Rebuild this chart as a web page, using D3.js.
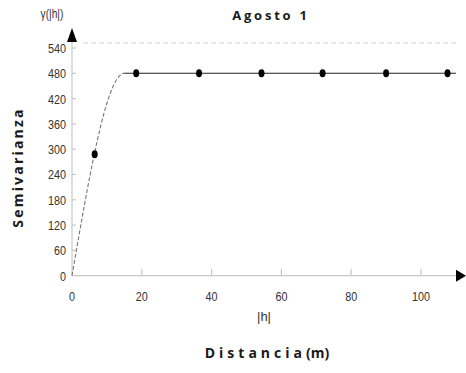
<!DOCTYPE html>
<html><head><meta charset="utf-8">
<script src="https://cdn.jsdelivr.net/npm/d3@7"></script>
<style>body{margin:0;background:#fff}svg{display:block}</style>
</head><body>
<svg id="chart" width="466" height="373"></svg>
<script>
// Experimental semivariogram (lag distance vs semivariance)
const lags = [6.5, 18.4, 36.4, 54.3, 71.8, 90.0, 107.6];
const semivar = [288, 480, 480, 480, 480, 480, 480];
// Fitted spherical model
const modelSill = 480;
const modelRange = 15;
const sillRef = 552;
const xTicks = [0, 20, 40, 60, 80, 100];
const yTicks = [0, 60, 120, 180, 240, 300, 360, 420, 480, 540];

const svg = d3.select("#chart");
const x = d3.scaleLinear().domain([0, 100]).range([72, 421]);
const y = d3.scaleLinear().domain([0, 540]).range([275.7, 48]);
const axisCol = "#c8c8c8";
const tickFont = "'Liberation Sans', Arial, sans-serif";

// axes lines
svg.append("line").attr("x1", 72).attr("x2", 458).attr("y1", y(0)).attr("y2", y(0))
  .attr("stroke", axisCol).attr("stroke-width", 1.2);
svg.append("line").attr("x1", 72).attr("x2", 72).attr("y1", y(0)).attr("y2", 36)
  .attr("stroke", axisCol).attr("stroke-width", 1.2);
// arrow heads
svg.append("path").attr("d", `M456,${y(0)-6} L466,${y(0)} L456,${y(0)+6} Z`).attr("fill", "#000");
svg.append("path").attr("d", `M67,42 L72,28 L77,42 Z`).attr("fill", "#000");

// ticks and tick labels
const gx = svg.append("g").attr("transform", `translate(0,${y(0)})`);
gx.selectAll("line.t").data(xTicks.slice(1)).enter().append("line")
  .attr("x1", d => x(d)).attr("x2", d => x(d)).attr("y1", 0).attr("y2", -7)
  .attr("stroke", axisCol).attr("stroke-width", 1.2);
gx.selectAll("text").data(xTicks).enter().append("text")
  .attr("x", d => x(d)).attr("y", 23).attr("text-anchor", "middle")
  .attr("font-family", tickFont).attr("font-size", 12).attr("fill", "#333")
  .attr("transform", d => `translate(${x(d)},0) scale(0.9,1.1) translate(${-x(d)},0)`)
  .text(d => d);

const gy = svg.append("g");
gy.selectAll("line").data(yTicks.slice(1)).enter().append("line")
  .attr("x1", 72).attr("x2", 76).attr("y1", d => y(d)).attr("y2", d => y(d))
  .attr("stroke", axisCol).attr("stroke-width", 1.2);
gy.selectAll("text").data(yTicks).enter().append("text")
  .attr("x", 66).attr("y", d => y(d) + 4.5).attr("text-anchor", "end")
  .attr("font-family", tickFont).attr("font-size", 12).attr("fill", "#333")
  .attr("transform", d => `translate(66,${y(d)}) scale(0.9,1.1) translate(-66,${-y(d)})`)
  .text(d => d);

// sill reference line
svg.append("line").attr("x1", 83).attr("x2", 457).attr("y1", y(sillRef)).attr("y2", y(sillRef))
  .attr("stroke", "#cfcfcf").attr("stroke-width", 1).attr("stroke-dasharray", "5,3");

// spherical model: dashed rising part, solid plateau
const sph = h => h >= modelRange ? modelSill :
  modelSill * (1.5 * h / modelRange - 0.5 * Math.pow(h / modelRange, 3));
const rise = d3.range(0, modelRange + 0.01, 0.25);
svg.append("path").datum(rise)
  .attr("d", d3.line().x(d => x(d)).y(d => y(sph(d))))
  .attr("fill", "none").attr("stroke", "#777").attr("stroke-width", 1.1).attr("stroke-dasharray", "4,2");
svg.append("line").attr("x1", x(modelRange)).attr("x2", x(110)).attr("y1", y(modelSill)).attr("y2", y(modelSill))
  .attr("stroke", "#222").attr("stroke-width", 1.1);

// experimental points
svg.selectAll("ellipse.pt").data(lags).enter().append("ellipse")
  .attr("cx", d => x(d)).attr("cy", (d, i) => y(semivar[i]))
  .attr("rx", 3).attr("ry", 4).attr("fill", "#000");

// labels
const bold = "'Open Sans', 'DejaVu Sans', sans-serif";
svg.append("text").attr("x", 271).attr("y", 20).attr("text-anchor", "middle")
  .attr("font-family", bold).attr("font-weight", "bold").attr("font-size", 13)
  .attr("letter-spacing", 2.8).attr("fill", "#1a1a1a").text("Agosto 1");
svg.append("text").attr("x", 52).attr("y", 18).attr("text-anchor", "middle")
  .attr("font-family", tickFont).attr("font-size", 12).attr("fill", "#333")
  .attr("transform", "translate(52,14) scale(0.85,1.1) translate(-52,-14)")
  .text("γ(|h|)");
svg.append("text").attr("transform", "translate(23,167.5) rotate(-90)")
  .attr("text-anchor", "middle").attr("font-family", bold).attr("font-weight", "bold")
  .attr("font-size", 14).attr("letter-spacing", 2.2).attr("fill", "#1a1a1a").text("Semivarianza");
svg.append("text").attr("x", 264).attr("y", 321).attr("text-anchor", "middle")
  .attr("font-family", tickFont).attr("font-size", 13).attr("fill", "#333")
  .text("|h|");
const dist = svg.append("text").attr("x", 267).attr("y", 358).attr("text-anchor", "middle")
  .attr("font-family", bold).attr("font-weight", "bold").attr("font-size", 14).attr("fill", "#1a1a1a");
dist.append("tspan").attr("letter-spacing", 4).text("Distancia");
dist.append("tspan").text("(m)");
</script>
</body></html>
